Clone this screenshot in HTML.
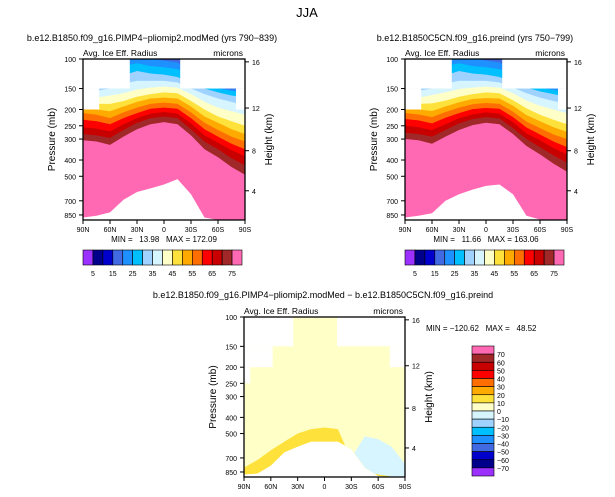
<!DOCTYPE html>
<html><head><meta charset="utf-8">
<style>
html,body{margin:0;padding:0;background:#fff;}
svg{display:block;font-family:"Liberation Sans",sans-serif;}
</style></head>
<body>
<svg id="fig" width="615" height="497" viewBox="0 0 615 497"></svg>
<script>
// ---- data ----
const lats = [90,75,60,45,30,15,0,-15,-30,-45,-60,-75,-90];
const latTicks = [90,60,30,0,-30,-60,-90];
const latTickLabels = ["90N","60N","30N","0","30S","60S","90S"];
const presTicks = [100,150,200,250,300,400,500,700,850];
const kmTicks = [16,12,8,4];
const kmTickPres = [104,196,352,610];
const levelColors = ["#9b30ff","#00008b","#0000cd","#4169e1","#1e90ff","#00bfff","#a0d2ff","#d7f5ff","#ffffc8","#ffe13c","#ffaa00","#ff6e00","#ff0000","#c80000","#a02828","#ff69b4"];
const topLevelLabels = ["5","15","25","35","45","55","65","75"];
const diffLevelLabels = ["70","60","50","40","30","20","10","0","-10","-20","-30","-40","-50","-60","-70"];
const tlBounds = [
 [15,[305,310,325,290,262,245,238,245,285,345,385,440,490]],
 [14,[280,285,295,265,240,225,220,225,262,310,345,390,430]],
 [13,[255,260,270,245,225,212,207,212,242,285,315,350,380]],
 [12,[230,235,245,225,210,198,195,198,225,262,290,320,345]],
 [11,[210,215,225,208,195,185,182,185,208,240,265,290,310]],
 [10,[200,200,205,192,180,172,170,172,192,220,240,262,280]],
 [9,[190,185,185,178,168,162,158,160,178,200,220,235,250]],
 [8,[175,170,165,160,152,148,146,148,162,180,195,205,215]],
 [7,[160,155,150,140,135,135,135,138,150,162,172,180,190]],
 [6,[140,140,135,125,118,122,124,128,140,150,158,165,170]],
 [5,[120,125,120,110,106,110,112,115,125,140,150,155,160]],
 [4,[100,110,110,100,100,100,102,105,118,140,148,152,150]]
];
const trBounds = [
 [15,[300,305,320,290,265,248,240,245,280,330,370,420,470]],
 [14,[275,280,290,265,242,228,222,226,258,300,335,375,415]],
 [13,[250,255,265,245,226,214,208,212,238,278,305,340,370]],
 [12,[228,232,242,224,210,199,196,198,222,256,282,310,335]],
 [11,[210,214,222,207,195,186,183,185,206,236,258,282,300]],
 [10,[200,200,204,192,181,173,171,172,190,216,235,255,272]],
 [9,[190,185,184,177,168,162,158,160,176,197,215,230,245]],
 [8,[175,170,164,158,151,148,146,148,160,177,190,200,210]],
 [7,[160,155,150,140,135,135,135,138,148,160,170,178,185]],
 [6,[140,140,135,125,118,122,124,128,138,148,156,162,168]],
 [5,[120,125,120,110,106,110,112,115,123,138,148,153,158]],
 [4,[100,110,110,100,100,100,102,105,116,138,146,150,148]]
];
const tlGround = [880,860,820,690,620,590,560,520,640,880,911,911,911];
const trGround = [880,860,830,700,640,600,570,560,640,860,905,911,911];
const diffLightBlueTop = [911,911,911,911,911,911,911,911,700,520,540,600,760];
const diffGoldTop = [800,720,630,560,500,470,460,470,720,840,880,905,911];
const diffGround = [880,870,780,650,600,560,560,560,620,800,900,911,911];
const missingTL = [[90,38,100,150],[-18,-90,100,150],[90,72,150,200],[-80,-90,150,200]];
const missingTR = [[90,38,100,150],[-18,-90,100,150],[90,72,150,200],[-80,-90,150,200]];
const missingDiff = [[90,35,100,150],[-14,-90,100,150],[90,58,150,200],[-73,-90,150,200],[90,83,200,250]];

const NS='http://www.w3.org/2000/svg';
const svg=document.getElementById('fig');
function el(tag,attrs,parent){const e=document.createElementNS(NS,tag);for(const k in attrs)e.setAttribute(k,attrs[k]);(parent||svg).appendChild(e);return e;}
function txt(x,y,s,size,anchor,parent,rot){const t=el('text',{x:x,y:y,'font-size':size,'text-anchor':anchor||'start',fill:'#000'},parent);if(rot)t.setAttribute('transform','rotate('+rot+' '+x+' '+y+')');t.textContent=s;return t;}
const PB=911;
function panel(x0,y0,w,h,name){
  const g=el('g',{});
  
  
  const X=lat=>x0+(90-lat)/180*w;
  const Y=p=>y0+h*Math.log(p/100)/Math.log(PB/100);
  const cid='clip-'+name;
  const cp=el('clipPath',{id:cid},g);el('rect',{x:x0,y:y0,width:w,height:h},cp);
  const d=el('g',{'clip-path':'url(#'+cid+')'},g);
  return {g,d,X,Y,x0,y0,w,h};
}
function band(P,top,bot,color,name){
  let pts=lats.map((l,i)=>P.X(l)+','+P.Y(top[i]));
  const b=bot?lats.map((l,i)=>P.X(l)+','+P.Y(bot[i])).reverse():[P.X(-90)+','+P.Y(PB+50),P.X(90)+','+P.Y(PB+50)];
  const e=el('polygon',{points:pts.concat(b).join(' '),fill:color},P.d);
  
  
}
function missing(P,rects){
  rects.forEach(r=>{const e=el('rect',{x:P.X(r[0]),y:P.Y(r[2]),width:P.X(r[1])-P.X(r[0]),height:P.Y(r[3])-P.Y(r[2]),fill:'#fff'},P.d);
  
  });
}
function axes(P){
  const g=P.g;
  el('rect',{x:P.x0,y:P.y0,width:P.w,height:P.h,fill:'none',stroke:'#000','stroke-width':1.3},g);
  presTicks.forEach(p=>{const y=P.Y(p);el('line',{x1:P.x0-4,x2:P.x0,y1:y,y2:y,stroke:'#000'},g);
    const t=txt(P.x0-7,y+3,String(p),7,'end',g);});
  kmTicks.forEach((k,i)=>{const y=P.Y(kmTickPres[i]);el('line',{x1:P.x0+P.w,x2:P.x0+P.w+4,y1:y,y2:y,stroke:'#000'},g);
    const t=txt(P.x0+P.w+7,y+3,String(k),7,'start',g);});
  latTicks.forEach((l,i)=>{const x=P.X(l);el('line',{x1:x,x2:x,y1:P.y0+P.h,y2:P.y0+P.h+4,stroke:'#000'},g);
    const t=txt(x,P.y0+P.h+12,latTickLabels[i],7,'middle',g);});
  let t=txt(P.x0-28,P.y0+P.h/2,'Pressure (mb)',10,'middle',g,-90);
  t=txt(P.x0+P.w+27,P.y0+P.h/2,'Height (km)',10,'middle',g,-90);
  t=txt(P.x0,P.y0-3,'Avg. Ice Eff. Radius',8.5,'start',g);
  t=txt(P.x0+P.w-2,P.y0-3,'microns',8.5,'end',g);
}
function hbar(x0,y0,w,h){
  const g=el('g',{});
  const bw=w/levelColors.length;
  levelColors.forEach((c,i)=>{const r=el('rect',{x:x0+i*bw,y:y0,width:bw,height:h,fill:c,stroke:'#000','stroke-width':0.6},g);
    });
  topLevelLabels.forEach((s,i)=>{const t=txt(x0+(1+2*i)*bw,y0+h+11,s,7,'middle',g);});
}
function vbar(x0,y0,w,h){
  const g=el('g',{});
  const n=levelColors.length,bh=h/n;
  for(let i=0;i<n;i++){const r=el('rect',{x:x0,y:y0+i*bh,width:w,height:bh,fill:levelColors[n-1-i],stroke:'#000','stroke-width':0.6},g);
    }
  diffLevelLabels.forEach((s,i)=>{const t=txt(x0+w+3,y0+(i+1)*bh+3,s.replace('-','\u2212'),7,'start',g);});
}
function meanPanel(x0,bounds,ground,miss,name){
  const P=panel(x0,59,162,161,name);
  el('rect',{x:P.x0,y:P.y0,width:P.w,height:P.h,fill:levelColors[3]},P.d);
  bounds.slice().reverse().forEach(b=>band(P,b[1],null,levelColors[b[0]],'band-'+b[0]));
  band(P,ground,null,'#fff','below-ground');
  missing(P,miss);
  axes(P);
  return P;
}
const S='\u00a0';
let t=txt(307,17,'JJA',13,'middle');
t=txt(152,41,'b.e12.B1850.f09_g16.PIMP4\u2212pliomip2.modMed (yrs 790\u2212839)',9,'middle');
t=txt(475,41,'b.e12.B1850C5CN.f09_g16.preind (yrs 750\u2212799)',9,'middle');
t=txt(323,298,'b.e12.B1850.f09_g16.PIMP4\u2212pliomip2.modMed \u2212 b.e12.B1850C5CN.f09_g16.preind',9,'middle');

meanPanel(83,tlBounds,tlGround,missingTL,'model-panel');
meanPanel(405,trBounds,trGround,missingTR,'control-panel');
t=txt(164,242,'MIN ='+S+S+S+'13.98'+S+S+S+'MAX = 172.09',8,'middle');
t=txt(486,242,'MIN ='+S+S+S+'11.66'+S+S+S+'MAX = 163.06',8,'middle');
hbar(83,250,159,15);
hbar(405,250,159,15);

const D=panel(244,317,161,160,'diff-panel');
el('rect',{x:D.x0,y:D.y0,width:D.w,height:D.h,fill:levelColors[8]},D.d);
band(D,diffLightBlueTop,diffGround,levelColors[7],'negative-region');
band(D,diffGoldTop,diffGround,levelColors[9],'positive-band');
band(D,diffGround,null,'#fff','below-ground');
missing(D,missingDiff);
axes(D);
t=txt(426,331,'MIN = \u2212120.62'+S+S+S+'MAX ='+S+S+S+'48.52',8,'start');
vbar(472,346,22,130);
</script>
</body></html>
